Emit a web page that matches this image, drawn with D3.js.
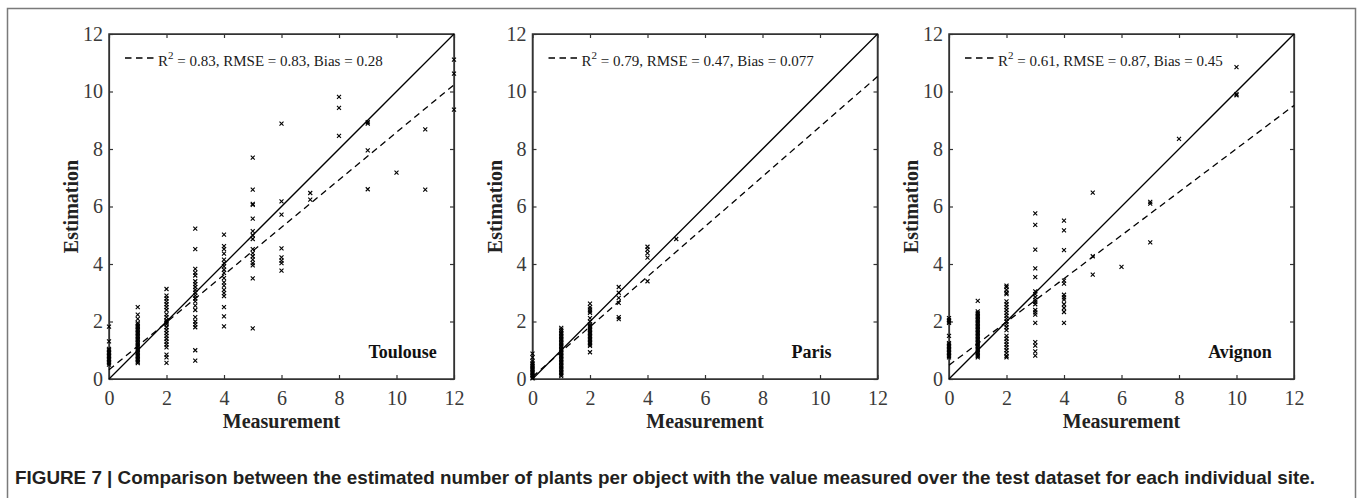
<!DOCTYPE html>
<html>
<head>
<meta charset="utf-8">
<script src="https://cdn.jsdelivr.net/npm/d3@7"></script>
<style>
  body { margin: 0; background: #fff; }
  svg { display: block; }
</style>
</head>
<body>
<svg id="chart" width="1358" height="498"></svg>
<script>
// sites, one panel each
const sites = ["Toulouse", "Paris", "Avignon"];
const ticks = [0, 2, 4, 6, 8, 10, 12];

// regression line (dashed) and stats per site
const fitIntercept = [0.32, 0.08, 0.48];
const fitSlope = [0.826, 0.87, 0.753];
const r2 = ["0.83", "0.79", "0.61"];
const rmse = ["0.83", "0.47", "0.87"];
const bias = ["0.28", "0.077", "0.45"];

const toulouseX = [0, 1, 2, 3, 4, 5, 6, 7, 8, 9, 10, 11, 12];
const toulouseY = [
  [0.5, 0.55, 0.6, 0.65, 0.7, 0.75, 0.8, 0.85, 0.9, 0.95, 1.0, 1.05, 1.31, 1.82],
  [0.55, 0.6, 0.65, 0.7, 0.75, 0.8, 0.85, 0.9, 0.95, 1.0, 1.05, 1.1, 1.15, 1.2, 1.25, 1.3, 1.35, 1.4, 1.45, 1.5, 1.55, 1.6, 1.65, 1.7, 1.75, 1.8, 1.85, 1.9, 1.95, 2.09, 2.24, 2.5],
  [3.13, 2.9, 2.8, 2.7, 2.6, 2.5, 2.4, 2.25, 2.15, 2.05, 2.0, 1.95, 1.9, 1.8, 1.7, 1.6, 1.5, 1.4, 1.3, 1.2, 1.1, 0.85, 0.75, 0.56],
  [5.23, 4.52, 3.83, 3.7, 3.6, 3.4, 3.3, 3.2, 3.1, 3.0, 2.9, 2.8, 2.7, 2.55, 2.4, 2.15, 2.0, 1.9, 1.8, 1.0, 0.64],
  [5.02, 4.62, 4.52, 4.36, 4.15, 4.03, 3.92, 3.8, 3.69, 3.51, 3.36, 3.25, 3.1, 2.99, 2.88, 2.5, 2.18, 1.83],
  [7.7, 6.59, 6.09, 6.06, 5.58, 5.14, 5.0, 4.87, 4.52, 4.38, 4.27, 4.15, 4.03, 3.95, 3.5, 1.76],
  [8.88, 6.18, 5.72, 4.54, 4.23, 4.12, 4.03, 3.77],
  [6.47, 6.24],
  [9.81, 9.43, 8.46],
  [8.93, 8.88, 7.95, 6.6],
  [7.18],
  [8.68, 6.59],
  [11.11, 10.62, 9.37]
];

const parisX = [0, 1, 2, 3, 4, 5];
const parisY = [
  [0.88, 0.75, 0.62, 0.55, 0.5, 0.45, 0.4, 0.35, 0.3, 0.25, 0.2, 0.15, 0.1, 0.05, 0.02],
  [1.78, 1.72, 1.66, 1.6, 1.55, 1.5, 1.45, 1.4, 1.35, 1.3, 1.25, 1.2, 1.15, 1.1, 1.05, 1.0, 0.95, 0.9, 0.85, 0.8, 0.75, 0.7, 0.65, 0.6, 0.55, 0.5, 0.45, 0.4, 0.35, 0.3, 0.25, 0.2, 0.15, 0.1],
  [2.62, 2.5, 2.42, 2.35, 2.3, 2.12, 2.0, 1.9, 1.85, 1.8, 1.75, 1.7, 1.65, 1.6, 1.55, 1.5, 1.45, 1.4, 1.35, 1.3, 1.25, 1.2, 1.15, 0.93],
  [3.2, 3.0, 2.82, 2.65, 2.15, 2.08],
  [4.6, 4.5, 4.38, 4.22, 3.4],
  [4.87]
];

const avignonX = [0, 1, 2, 3, 4, 5, 6, 7, 8, 10];
const avignonY = [
  [2.12, 2.05, 2.0, 1.95, 1.5, 1.25, 1.2, 1.15, 1.1, 1.05, 1.0, 0.95, 0.9, 0.85, 0.8, 0.75],
  [2.72, 2.35, 2.3, 2.25, 2.2, 2.15, 2.1, 2.05, 2.0, 1.95, 1.9, 1.85, 1.8, 1.75, 1.7, 1.65, 1.6, 1.55, 1.5, 1.45, 1.4, 1.35, 1.3, 1.25, 1.2, 1.15, 1.1, 1.05, 1.0, 0.95, 0.9, 0.85, 0.8, 0.75],
  [3.25, 3.2, 3.1, 3.0, 2.95, 2.7, 2.6, 2.5, 2.4, 2.3, 2.2, 2.1, 2.0, 1.9, 1.8, 1.7, 1.5, 1.4, 1.3, 1.2, 1.1, 1.0, 0.9, 0.8, 0.75],
  [5.76, 5.36, 4.5, 3.85, 3.54, 3.05, 2.95, 2.85, 2.75, 2.68, 2.6, 2.4, 2.32, 2.24, 1.95, 1.28, 1.16, 0.96, 0.81],
  [5.51, 5.17, 4.48, 3.42, 3.32, 2.93, 2.84, 2.76, 2.6, 2.47, 2.33, 1.95],
  [6.48, 4.27, 3.63],
  [3.9],
  [6.16, 6.1, 4.75],
  [8.35],
  [10.85, 9.91, 9.87]
];

const siteX = [toulouseX, parisX, avignonX];
const siteY = [toulouseY, parisY, avignonY];

const caption = "FIGURE 7 | Comparison between the estimated number of plants per object with the value measured over the test dataset for each individual site.";

// layout
const panelLeft = [109, 532.5, 949];
const panelTop = 34;
const size = 345;
const labelRight = [11.4, 10.4, 11.23]; // site label right edge, in data units
const serif = "'Liberation Serif', 'Times New Roman', serif";

const svg = d3.select("#chart");

// outer frame
svg.append("path")
  .attr("d", "M7.5,498V8.5H1355.5V498")
  .attr("fill", "none").attr("stroke", "#7a7a7a").attr("stroke-width", 1.5);

const x = d3.scaleLinear().domain([0, 12]).range([0, size]);
const y = d3.scaleLinear().domain([0, 12]).range([size, 0]);

sites.forEach((site, i) => {
  const g = svg.append("g").attr("transform", `translate(${panelLeft[i]},${panelTop})`);

  const styleAxis = a => {
    a.attr("font-family", null).attr("font-size", null);
    a.selectAll("path, line").attr("stroke", "#333").attr("stroke-width", 1.2);
    a.selectAll("text").style("font-family", serif).style("font-size", "20px").attr("fill", "#3a3a3a");
  };

  g.append("g").attr("transform", `translate(0,${size})`)
    .call(d3.axisBottom(x).tickValues(ticks).tickSizeInner(-4).tickSizeOuter(0).tickPadding(12))
    .call(styleAxis);
  g.append("g")
    .call(d3.axisLeft(y).tickValues(ticks).tickSizeInner(-4).tickSizeOuter(0).tickPadding(6))
    .call(styleAxis);
  g.append("g")
    .call(d3.axisTop(x).tickValues(ticks).tickSizeInner(-4).tickSizeOuter(0).tickFormat(""))
    .call(styleAxis);
  g.append("g").attr("transform", `translate(${size},0)`)
    .call(d3.axisRight(y).tickValues(ticks).tickSizeInner(-4).tickSizeOuter(0).tickFormat(""))
    .call(styleAxis);

  g.append("rect").attr("width", size).attr("height", size)
    .attr("fill", "none").attr("stroke", "#333").attr("stroke-width", 1.5);

  // points
  const pts = [];
  siteX[i].forEach((m, k) => siteY[i][k].forEach(e => pts.push([m, e])));
  g.append("g").selectAll("path").data(pts).join("path")
    .attr("transform", d => `translate(${x(d[0])},${y(d[1])})`)
    .attr("d", "M-2,-2L2,2M-2,2L2,-2")
    .attr("stroke", "#000").attr("stroke-width", 1.1);

  // 1:1 line
  const line = d3.line().x(d => x(d[0])).y(d => y(d[1]));
  g.append("path").attr("d", line([[0, 0], [12, 12]]))
    .attr("fill", "none").attr("stroke", "#000").attr("stroke-width", 1.3);

  // regression line
  g.append("path")
    .attr("d", line([0, 12].map(v => [v, fitIntercept[i] + fitSlope[i] * v])))
    .attr("fill", "none").attr("stroke", "#000").attr("stroke-width", 1.3)
    .attr("stroke-dasharray", "6.5,4.5");

  // legend
  g.append("line").attr("x1", 16).attr("x2", 45.5).attr("y1", 24).attr("y2", 24)
    .attr("stroke", "#000").attr("stroke-width", 1.3).attr("stroke-dasharray", "6.5,4.5");
  const lt = g.append("text").attr("x", 49).attr("y", 32)
    .attr("font-family", serif).attr("font-size", 15).attr("fill", "#1a1a1a");
  lt.append("tspan").text("R");
  lt.append("tspan").attr("dy", -7).attr("font-size", 11).text("2");
  lt.append("tspan").attr("dy", 7).text(` = ${r2[i]}, RMSE = ${rmse[i]}, Bias = ${bias[i]}`);

  // site label
  g.append("text").attr("x", x(labelRight[i])).attr("y", 324)
    .attr("text-anchor", "end").attr("font-family", serif).attr("font-weight", "bold")
    .attr("font-size", 18).attr("fill", "#111").text(site);

  // axis titles
  g.append("text").attr("x", size / 2).attr("y", 394)
    .attr("text-anchor", "middle").attr("font-family", serif).attr("font-weight", "bold")
    .attr("font-size", 20).attr("fill", "#222").text("Measurement");
  g.append("text").attr("transform", `translate(-31,${size / 2}) rotate(-90)`)
    .attr("text-anchor", "middle").attr("font-family", serif).attr("font-weight", "bold")
    .attr("font-size", 20).attr("fill", "#222").text("Estimation");
});

// caption
svg.append("text").attr("x", 15).attr("y", 484)
  .attr("font-family", "'Liberation Sans Narrow', 'Liberation Sans', Arial, sans-serif")
  .attr("font-weight", "bold").attr("font-size", 19).attr("fill", "#231f20")
  .attr("textLength", 1300).attr("lengthAdjust", "spacingAndGlyphs")
  .text(caption);
</script>
</body>
</html>
